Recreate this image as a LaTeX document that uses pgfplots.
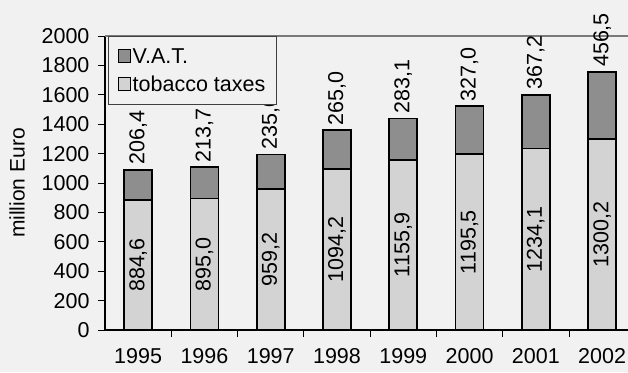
\documentclass[border=0pt]{standalone}
\usepackage{pgfplots}
\pgfplotsset{compat=1.18}
\usepackage{pgfplotstable}
\usepackage{fontspec}
\setmainfont{Liberation Sans}
\usetikzlibrary{backgrounds}

\definecolor{vatgray}{HTML}{8E8E8E}
\definecolor{tobgray}{HTML}{D3D3D3}
\definecolor{paper}{HTML}{F1F1F1}
\definecolor{rulegray}{HTML}{7A7A7A}

% tax revenue, million Euro
\pgfplotstableread{
x year tob vat tobl vatl
0 1995 884.6 206.4 884,6 206,4
1 1996 895.0 213.7 895,0 213,7
2 1997 959.2 235.0 959,2 235,0
3 1998 1094.2 265.0 1094,2 265,0
4 1999 1155.9 283.1 1155,9 283,1
5 2000 1195.5 327.0 1195,5 327,0
6 2001 1234.1 367.2 1234,1 367,2
7 2002 1300.2 456.5 1300,2 456,5
}\taxdata

\newcommand{\bigfont}{\fontsize{21.5}{25}\selectfont}

\begin{document}
\begin{tikzpicture}
\begin{axis}[
  scale only axis,
  width=523pt, height=294pt,
  xmin=-0.5, xmax=7.39,
  ymin=0, ymax=2000,
  axis x line*=bottom,
  axis y line*=left,
  axis line style={line width=1.2pt, black},
  tick align=outside,
  ytick={0,200,...,2000},
  major tick length=7pt,
  ytick style={line width=1pt, black},
  xtick={0,...,7},
  xticklabels={1995,1996,1997,1998,1999,2000,2001,2002},
  xtick style={draw=none},
  extra x ticks={0.5,1.5,...,6.5},
  extra x tick labels={},
  extra x tick style={xtick style={draw=black, line width=1pt}},
  tick label style={font=\bigfont},
  xticklabel style={yshift=-8pt},
  yticklabel style={xshift=-5pt},
  /pgf/number format/assume math mode=true,
  /pgf/number format/1000 sep={},
  ylabel={million Euro},
  ylabel style={font=\fontsize{21}{25}\selectfont, yshift=10pt},
  ybar, bar width=28pt, bar shift=0pt,
  legend style={
    at={(0.006,1)}, anchor=north west,
    fill=paper, draw=black!75, line width=0.8pt,
    font=\bigfont, row sep=7pt, inner xsep=9pt, inner ysep=10pt,
    legend cell align=left,
  },
  clip=false,
]
% whole bar: tobacco taxes plus V.A.T.
\addplot[fill=vatgray, draw=black, line width=1.8pt,
  nodes near coords, point meta=explicit symbolic,
  every node near coord/.append style={rotate=90, anchor=west, font=\bigfont, black, inner xsep=4pt},
  legend image code/.code={\draw[fill=vatgray, draw=black, line width=1.2pt] (0pt,-6pt) rectangle (12pt,7pt);}]
  table[x=x, y expr=\thisrow{tob}+\thisrow{vat}, meta=vatl] {\taxdata};
\addlegendentry{V.A.T.}
% lower part: tobacco taxes
\addplot[fill=tobgray, draw=black, line width=1.8pt,
  legend image code/.code={\draw[fill=tobgray, draw=black, line width=1.2pt] (0pt,-6pt) rectangle (12pt,7pt);}]
  table[x=x, y=tob] {\taxdata};
\addlegendentry{tobacco taxes}
% values of the tobacco part, centred in the segment
\addplot[draw=none, fill=none, forget plot,
  nodes near coords, point meta=explicit symbolic,
  every node near coord/.append style={rotate=90, anchor=center, font=\bigfont, black}]
  table[x=x, y expr=\thisrow{tob}/2, meta=tobl] {\taxdata};
\draw[rulegray, line width=2pt] (rel axis cs:0,1) -- (rel axis cs:1,1);
\coordinate (BL) at (rel axis cs:0,0);
\coordinate (TR) at (rel axis cs:1,1);
\end{axis}
\pgfresetboundingbox
\begin{scope}[on background layer]
\fill[paper] ([shift={(-105pt,-42pt)}]BL) rectangle ([shift={(0pt,36pt)}]TR);
\end{scope}
\end{tikzpicture}
\end{document}
